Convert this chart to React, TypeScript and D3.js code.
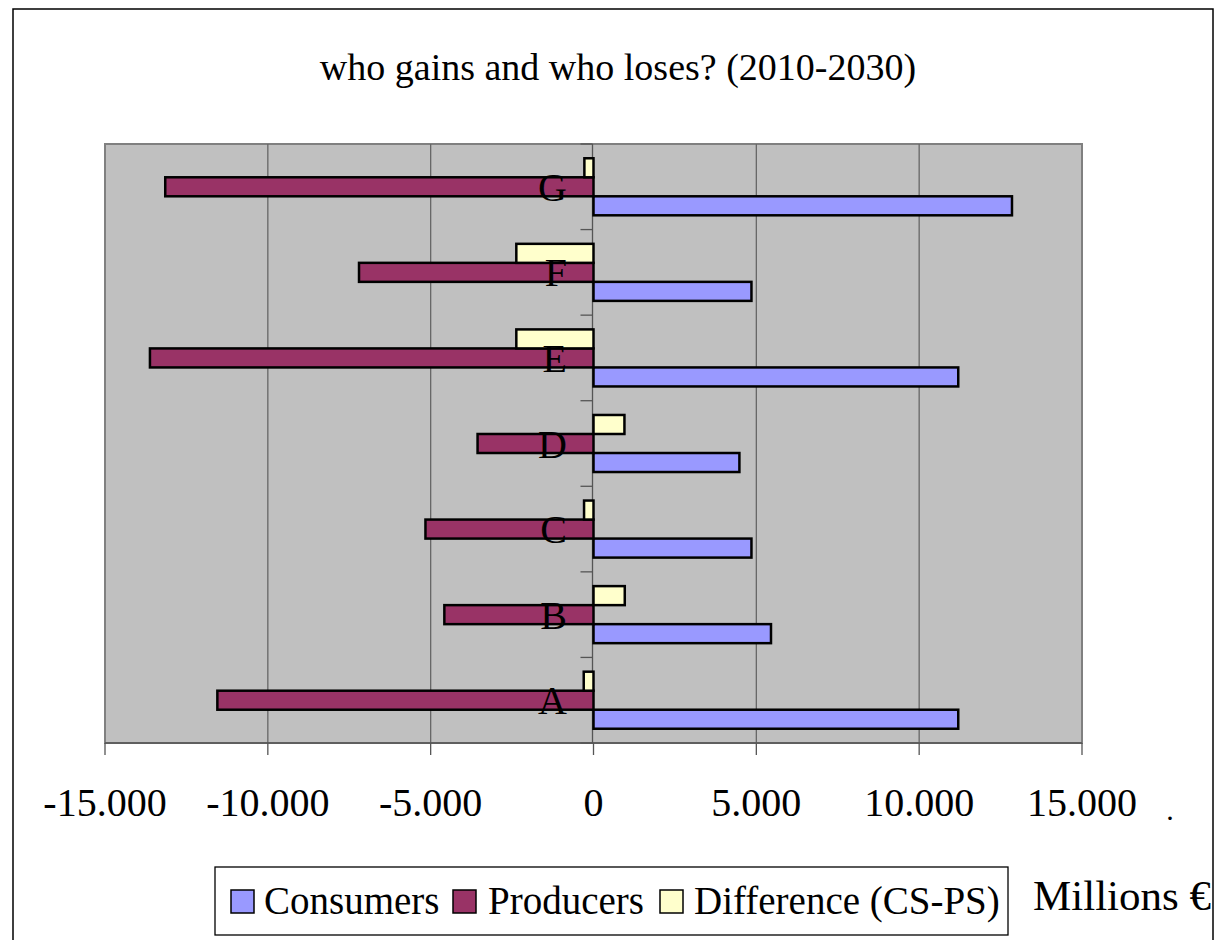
import React from 'react';
import * as d3 from 'd3';

// categories bottom-to-top as in the original (A at the bottom)
const categories = ["A", "B", "C", "D", "E", "F", "G"];
const consumers = [11200, 5450, 4850, 4480, 11200, 4850, 12850];
const producers = [-11550, -4580, -5160, -3560, -13620, -7200, -13150];
const difference = [-300, 960, -290, 950, -2370, -2370, -280];
const xTicks = [-15000, -10000, -5000, 0, 5000, 10000, 15000];
const xTickLabels = ["-15.000", "-10.000", "-5.000", "0", "5.000", "10.000", "15.000"];

const series = [
  { name: "Consumers", values: consumers, color: "#9999FF" },
  { name: "Producers", values: producers, color: "#993366" },
  { name: "Difference (CS-PS)", values: difference, color: "#FFFFCC" },
];

const FONT = "'Liberation Serif', 'Times New Roman', serif";

const App = () => {
  const W = 1218;
  const H = 940;
  const plot = { left: 105, top: 144, right: 1082, bottom: 743 };

  const x = d3.scaleLinear().domain([-15000, 15000]).range([plot.left, plot.right]);
  // top of plot is G, bottom is A
  const y = d3.scaleBand().domain([...categories].reverse()).range([plot.top, plot.bottom]).padding(0);
  const bw = y.bandwidth();
  const barH = bw / 4.5; // gap width 150%
  // within a group: Difference on top, then Producers, then Consumers
  const inner = d3.scaleBand()
    .domain(["Difference (CS-PS)", "Producers", "Consumers"])
    .range([barH * 0.75, bw - barH * 0.75])
    .padding(0);

  const zero = x(0);
  const boundaries = d3.range(categories.length + 1).map(i => plot.top + i * bw);

  const legendItems = [
    { name: "Consumers", color: "#9999FF", x: 231, tx: 264 },
    { name: "Producers", color: "#993366", x: 453, tx: 488 },
    { name: "Difference (CS-PS)", color: "#FFFFCC", x: 660, tx: 694 },
  ];

  return (
    <svg width={W} height={H} style={{ position: 'absolute', left: 0, top: 0, background: '#fff' }}>
      {/* chart border */}
      <rect x={13} y={9} width={1200} height={960} fill="#fff" stroke="#000" strokeWidth={1.5} />

      <text x={618} y={80} textAnchor="middle" fontFamily={FONT} fontSize={38}>
        who gains and who loses? (2010-2030)
      </text>

      {/* plot area */}
      <rect x={plot.left} y={plot.top} width={plot.right - plot.left} height={plot.bottom - plot.top}
        fill="#C0C0C0" stroke="#808080" strokeWidth={2} />

      {/* gridlines */}
      {xTicks.filter(t => t !== -15000 && t !== 15000 && t !== 0).map(t => (
        <line key={t} x1={x(t)} x2={x(t)} y1={plot.top} y2={plot.bottom} stroke="#666" strokeWidth={1.3} />
      ))}

      {/* category axis line and ticks */}
      <line x1={zero - 1} x2={zero - 1} y1={plot.top} y2={plot.bottom} stroke="#555" strokeWidth={1.3} />
      {boundaries.map((b, i) => (
        <line key={i} x1={zero - 13} x2={zero - 1} y1={b} y2={b} stroke="#555" strokeWidth={1.3} />
      ))}

      {/* bars */}
      {series.map(s => (
        <g key={s.name}>
          {categories.map((c, i) => {
            const v = s.values[i];
            const x0 = Math.min(x(v), zero);
            const w = Math.abs(x(v) - zero);
            return (
              <rect key={c} x={x0} y={(y(c) as number) + (inner(s.name) as number)}
                width={w} height={inner.bandwidth()} fill={s.color} stroke="#000" strokeWidth={2.5} />
            );
          })}
        </g>
      ))}

      {/* category labels */}
      {categories.map(c => (
        <text key={c} x={567} y={(y(c) as number) + bw / 2 + 14} textAnchor="end"
          fontFamily={FONT} fontSize={40}>{c}</text>
      ))}

      {/* value axis */}
      <line x1={plot.left} x2={plot.right} y1={plot.bottom} y2={plot.bottom} stroke="#555" strokeWidth={1.3} />
      {xTicks.map((t, i) => (
        <g key={t}>
          <line x1={x(t)} x2={x(t)} y1={plot.bottom} y2={plot.bottom + 12} stroke="#555" strokeWidth={1.3} />
          <text x={x(t)} y={816} textAnchor="middle" fontFamily={FONT} fontSize={40}>{xTickLabels[i]}</text>
        </g>
      ))}
      <text x={1170} y={820} textAnchor="middle" fontFamily={FONT} fontSize={30}>.</text>

      {/* legend */}
      <rect x={215} y={867} width={793} height={68} fill="#fff" stroke="#000" strokeWidth={1.3} />
      {legendItems.map(l => (
        <g key={l.name}>
          <rect x={l.x} y={890} width={23} height={23} fill={l.color} stroke="#000" strokeWidth={1.5} />
          <text x={l.tx} y={914} fontFamily={FONT} fontSize={39}>{l.name}</text>
        </g>
      ))}

      <text x={1033} y={910} fontFamily={FONT} fontSize={43}>Millions €</text>
    </svg>
  );
};

export default App;
